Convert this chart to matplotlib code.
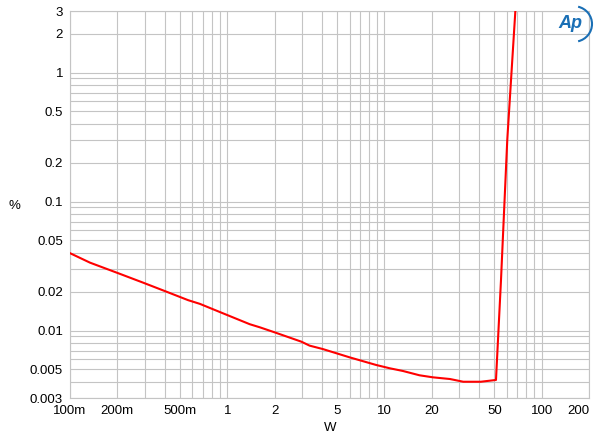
import numpy as np
import matplotlib
matplotlib.use("Agg")
import matplotlib.pyplot as plt
from matplotlib.patches import Arc

plt.rcParams['font.family'] = ['Liberation Sans', 'DejaVu Sans']

# THD+N (%) vs output power (W)
power = [0.1, 0.134, 0.203, 0.292, 0.411, 0.564, 0.67, 0.94, 1.39, 1.61, 2.0,
         2.96, 3.34, 4.05, 6.0, 8.85, 10.8, 13.1, 16.7, 20.3, 26.1, 31.7, 41.0,
         51.2, 55.1, 60.4, 68.0, 69.0]
thd = [0.0398, 0.0336, 0.0278, 0.0235, 0.0200, 0.0172, 0.0161, 0.0136, 0.0112,
       0.0106, 0.00969, 0.0082, 0.00764, 0.00719, 0.0062, 0.00541, 0.0051,
       0.00486, 0.0045, 0.00434, 0.00421, 0.00401, 0.00401, 0.00414, 0.0246,
       0.3, 3.0, 3.6]

xticks = [0.1, 0.2, 0.5, 1, 2, 5, 10, 20, 50, 100, 200]
xlabels = ['100m', '200m', '500m', '1', '2', '5', '10', '20', '50', '100', '200']
yticks = [0.003, 0.005, 0.01, 0.02, 0.05, 0.1, 0.2, 0.5, 1, 2, 3]
ylabels = ['0.003', '0.005', '0.01', '0.02', '0.05', '0.1', '0.2', '0.5', '1', '2', '3']

fig = plt.figure(figsize=(6, 4.44), dpi=100)
ax = fig.add_axes([0.1167, 0.1036, 0.865, 0.8716])
ax.set_xscale('log')
ax.set_yscale('log')
ax.set_xlim(0.1, 200)
ax.set_ylim(0.003, 3)

ax.plot(power, thd, color='#ff0000', lw=1.5, clip_on=True, zorder=3)

ax.set_xticks(xticks)
ax.set_xticklabels(xlabels)
ax.set_yticks(yticks)
ax.set_yticklabels(ylabels)
ax.xaxis.set_minor_locator(matplotlib.ticker.LogLocator(base=10, subs=np.arange(2, 10)))
ax.yaxis.set_minor_locator(matplotlib.ticker.LogLocator(base=10, subs=np.arange(2, 10)))
ax.xaxis.set_minor_formatter(matplotlib.ticker.NullFormatter())
ax.yaxis.set_minor_formatter(matplotlib.ticker.NullFormatter())
ax.tick_params(which='both', length=0, labelsize=9.5, pad=5)
ax.get_xticklabels()[-1].set_ha('right')
ax.get_xticklabels()[-1].set_x(0)

ax.grid(True, which='both', color='#c4c4c4', lw=0.8)
for s in ax.spines.values():
    s.set_color('#c4c4c4')
    s.set_linewidth(0.8)

fig.text(14 / 600, 1 - 206 / 444, '%', fontsize=9.5, ha='center', va='center')
fig.text(330 / 600, 1 - 428 / 444, 'W', fontsize=9.5, ha='center', va='center')

# Ap logo
fig.text(570 / 600, 1 - 24 / 444, 'Ap', fontsize=13, color='#1a6fb5', style='italic',
         ha='center', va='center', fontweight='bold')
arc = Arc((574 / 600, 1 - 24 / 444), 0.06, 0.08, theta1=-80, theta2=80,
          transform=fig.transFigure, color='#1a6fb5', lw=1.5)
fig.add_artist(arc)

fig.savefig('out.png', dpi=100)
